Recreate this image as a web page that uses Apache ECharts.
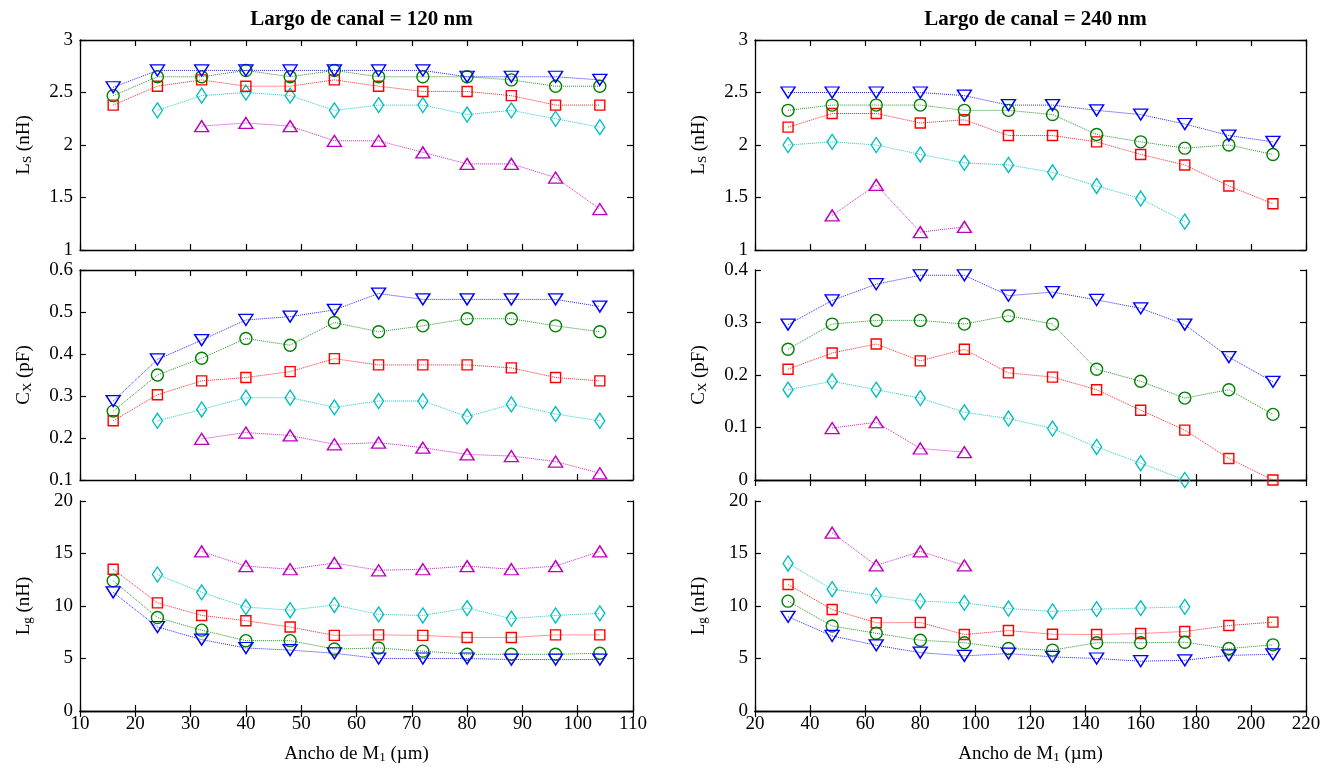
<!DOCTYPE html>
<html>
<head>
<meta charset="utf-8">
<script src="https://cdn.jsdelivr.net/npm/echarts@6/dist/echarts.min.js"></script>
<style>
  html, body { margin: 0; padding: 0; background: #ffffff; }
  #chart { width: 1337px; height: 774px; }
</style>
</head>
<body>
<div id="chart"></div>
<script>
// Transistor widths (µm) for each channel length
const width120 = [16, 24, 32, 40, 48, 56, 64, 72, 80, 88, 96, 104];
const width240 = [32, 48, 64, 80, 96, 112, 128, 144, 160, 176, 192, 208];

// Channel length 120 nm: Ls (nH)
const ls120Blue    = [2.55, 2.71, 2.71, 2.71, 2.71, 2.71, 2.71, 2.71, 2.65, 2.65, 2.65, 2.62];
const ls120Green   = [2.47, 2.65, 2.65, 2.71, 2.65, 2.71, 2.65, 2.65, 2.65, 2.62, 2.56, 2.56];
const ls120Red     = [2.38, 2.56, 2.62, 2.56, 2.56, 2.62, 2.56, 2.51, 2.51, 2.47, 2.38, 2.38];
const ls120Cyan    = [null, 2.33, 2.47, 2.50, 2.47, 2.33, 2.38, 2.38, 2.29, 2.33, 2.25, 2.17];
const ls120Magenta = [null, null, 2.18, 2.21, 2.18, 2.04, 2.04, 1.93, 1.82, 1.82, 1.69, 1.39];

// Channel length 120 nm: Cx (pF)
const cx120Blue    = [0.288, 0.387, 0.433, 0.481, 0.489, 0.505, 0.544, 0.530, 0.530, 0.530, 0.530, 0.513];
const cx120Green   = [0.264, 0.350, 0.390, 0.437, 0.421, 0.475, 0.453, 0.467, 0.484, 0.484, 0.467, 0.453];
const cx120Red     = [0.241, 0.303, 0.336, 0.344, 0.358, 0.389, 0.374, 0.374, 0.374, 0.367, 0.344, 0.336];
const cx120Cyan    = [null, 0.241, 0.268, 0.296, 0.296, 0.273, 0.288, 0.288, 0.251, 0.280, 0.257, 0.241];
const cx120Magenta = [null, null, 0.198, 0.213, 0.206, 0.185, 0.189, 0.177, 0.161, 0.157, 0.144, 0.116];

// Channel length 120 nm: Lg (nH)
const lg120Blue    = [11.3, 8.0, 6.8, 6.0, 5.8, 5.5, 5.0, 5.0, 5.0, 4.9, 4.9, 4.9];
const lg120Green   = [12.4, 8.9, 7.7, 6.7, 6.7, 5.9, 6.0, 5.7, 5.4, 5.4, 5.4, 5.5];
const lg120Red     = [13.5, 10.3, 9.1, 8.6, 8.0, 7.2, 7.25, 7.2, 7.0, 7.0, 7.25, 7.25];
const lg120Cyan    = [null, 13.0, 11.3, 9.9, 9.6, 10.1, 9.2, 9.1, 9.8, 8.8, 9.1, 9.3];
const lg120Magenta = [null, null, 15.2, 13.8, 13.5, 14.1, 13.4, 13.5, 13.8, 13.5, 13.8, 15.2];

// Channel length 240 nm: Ls (nH)
const ls240Blue    = [2.50, 2.50, 2.50, 2.50, 2.47, 2.38, 2.38, 2.33, 2.29, 2.20, 2.09, 2.03];
const ls240Green   = [2.33, 2.38, 2.38, 2.38, 2.33, 2.33, 2.29, 2.10, 2.03, 1.97, 2.00, 1.91];
const ls240Red     = [2.17, 2.30, 2.30, 2.21, 2.24, 2.09, 2.09, 2.03, 1.91, 1.81, 1.61, 1.44];
const ls240Cyan    = [2.00, 2.03, 2.00, 1.91, 1.83, 1.81, 1.74, 1.61, 1.49, 1.27, null, null];
const ls240Magenta = [null, 1.33, 1.62, 1.17, 1.22, null, null, null, null, null, null, null];

// Channel length 240 nm: Cx (pF)
const cx240Blue    = [0.296, 0.342, 0.373, 0.390, 0.390, 0.351, 0.358, 0.343, 0.327, 0.296, 0.234, 0.187];
const cx240Green   = [0.249, 0.297, 0.304, 0.304, 0.297, 0.313, 0.297, 0.211, 0.188, 0.156, 0.172, 0.125];
const cx240Red     = [0.211, 0.242, 0.259, 0.227, 0.249, 0.204, 0.196, 0.172, 0.133, 0.095, 0.041, 0.000];
const cx240Cyan    = [0.172, 0.188, 0.172, 0.156, 0.129, 0.117, 0.098, 0.063, 0.032, 0.000, null, null];
const cx240Magenta = [null, 0.099, 0.110, 0.060, 0.053, null, null, null, null, null, null, null];

// Channel length 240 nm: Lg (nH)
const lg240Blue    = [8.97, 7.15, 6.26, 5.56, 5.25, 5.47, 5.15, 5.00, 4.74, 4.83, 5.30, 5.40];
const lg240Green   = [10.46, 8.10, 7.40, 6.74, 6.50, 5.95, 5.80, 6.50, 6.50, 6.55, 5.95, 6.30];
const lg240Red     = [12.05, 9.67, 8.40, 8.43, 7.28, 7.66, 7.31, 7.28, 7.38, 7.57, 8.14, 8.46];
const lg240Cyan    = [14.05, 11.60, 11.00, 10.46, 10.30, 9.76, 9.48, 9.70, 9.80, 9.92, null, null];
const lg240Magenta = [null, 16.98, 13.86, 15.20, 13.86, null, null, null, null, null, null, null];

// Column titles and axis ranges
const columnTitles = ['Largo de canal = 120 nm', 'Largo de canal = 240 nm'];
const xRanges = [[10, 110, 10], [20, 220, 20]];
const yRanges = [[1, 3, 0.5], [0.1, 0.6, 0.1], [0, 20, 5]];
const yRangesRight = [[1, 3, 0.5], [0, 0.4, 0.1], [0, 20, 5]];

const SERIF = '"Liberation Serif", "Times New Roman", "DejaVu Serif", serif';

// Marker / colour scheme for the five curves
const curveStyles = [
  { color: '#0000ff', symbol: 'triangle', rotate: 180, size: [14, 11] },
  { color: '#008000', symbol: 'circle', rotate: 0, size: 12 },
  { color: '#ff0000', symbol: 'rect', rotate: 0, size: 10 },
  { color: '#00bfbf', symbol: 'diamond', rotate: 0, size: [10, 15] },
  { color: '#bf00bf', symbol: 'triangle', rotate: 0, size: [14, 11] }
];

const panels = [
  { col: 0, row: 0, x: width120, ys: [ls120Blue, ls120Green, ls120Red, ls120Cyan, ls120Magenta] },
  { col: 0, row: 1, x: width120, ys: [cx120Blue, cx120Green, cx120Red, cx120Cyan, cx120Magenta] },
  { col: 0, row: 2, x: width120, ys: [lg120Blue, lg120Green, lg120Red, lg120Cyan, lg120Magenta] },
  { col: 1, row: 0, x: width240, ys: [ls240Blue, ls240Green, ls240Red, ls240Cyan, ls240Magenta] },
  { col: 1, row: 1, x: width240, ys: [cx240Blue, cx240Green, cx240Red, cx240Cyan, cx240Magenta] },
  { col: 1, row: 2, x: width240, ys: [lg240Blue, lg240Green, lg240Red, lg240Cyan, lg240Magenta] }
];

const yNames = [
  '{m|L}{s|S}{m| (nH)}',
  '{m|C}{s|X}{m| (pF)}',
  '{m|L}{s|g}{m| (nH)}'
];
const xName = '{m|Ancho de M}{s|1}{m| (µm)}';

// main text sits at the top of the line box, the subscript at its bottom
const nameRich = {
  m: { fontFamily: SERIF, fontSize: 19, color: '#000', lineHeight: 19, verticalAlign: 'top' },
  s: { fontFamily: SERIF, fontSize: 13, color: '#000', lineHeight: 13, padding: [11, 0, 0, 0], verticalAlign: 'bottom' }
};

const colLeft = [80, 755];
const colWidth = [553, 551];
const rowTop = [40, 270, 501];
const rowHeight = 210;

const grid = [], xAxis = [], yAxis = [], series = [], title = [];
const AX = { lineStyle: { color: '#000', width: 1.3 } };
const TICK = { inside: true, length: 6, lineStyle: { color: '#000', width: 1.2 } };
const TICK_LABEL = { fontFamily: SERIF, fontSize: 19, color: '#000' };

panels.forEach((p, gi) => {
  grid.push({ left: colLeft[p.col], top: rowTop[p.row], width: colWidth[p.col], height: rowHeight, containLabel: false });
  const xr = xRanges[p.col];
  const yr = (p.col === 0 ? yRanges : yRangesRight)[p.row];
  const bottomRow = p.row === 2;
  // bottom x axis
  xAxis.push({
    type: 'value', gridIndex: gi, position: 'bottom', min: xr[0], max: xr[1], interval: xr[2],
    axisLine: AX, axisTick: TICK, splitLine: { show: false },
    axisLabel: Object.assign({ show: bottomRow, margin: 4 }, TICK_LABEL),
    name: bottomRow ? xName : '', nameLocation: 'middle', nameGap: 34,
    nameTextStyle: { rich: nameRich }
  });
  // top x axis (ticks only)
  xAxis.push({
    type: 'value', gridIndex: gi, position: 'top', min: xr[0], max: xr[1], interval: xr[2],
    axisLine: AX, axisTick: TICK, splitLine: { show: false }, axisLabel: { show: false }
  });
  // left y axis
  yAxis.push({
    type: 'value', gridIndex: gi, position: 'left', min: yr[0], max: yr[1], interval: yr[2],
    axisLine: AX, axisTick: TICK, splitLine: { show: false },
    axisLabel: Object.assign({ margin: 7 }, TICK_LABEL),
    name: yNames[p.row], nameLocation: 'middle', nameGap: 46, nameRotate: 90,
    nameTextStyle: { rich: nameRich }
  });
  // right y axis (ticks only)
  yAxis.push({
    type: 'value', gridIndex: gi, position: 'right', min: yr[0], max: yr[1], interval: yr[2],
    axisLine: AX, axisTick: TICK, splitLine: { show: false }, axisLabel: { show: false }
  });

  p.ys.forEach((vals, si) => {
    const st = curveStyles[si];
    const data = [];
    vals.forEach((v, i) => { if (v !== null) data.push([p.x[i], v]); });
    series.push({
      type: 'line',
      name: 'curva ' + (si + 1),
      xAxisIndex: gi * 2,
      yAxisIndex: gi * 2,
      data: data,
      symbol: st.symbol,
      symbolSize: st.size,
      symbolRotate: st.rotate,
      showAllSymbol: true,
      clip: false,
      silent: true,
      animation: false,
      lineStyle: { color: st.color, width: 1, type: 'dotted', opacity: 0.85 },
      itemStyle: { color: 'rgba(255,255,255,0)', borderColor: st.color, borderWidth: 1.4 },
      z: 10 - si
    });
  });
});

columnTitles.forEach((t, c) => {
  title.push({
    text: t,
    left: colLeft[c] + colWidth[c] / 2,
    top: 4,
    textAlign: 'center',
    textStyle: { fontFamily: SERIF, fontSize: 21, fontWeight: 'bold', color: '#000' }
  });
});

const chart = echarts.init(document.getElementById('chart'), null, { renderer: 'canvas' });
chart.setOption({
  animation: false,
  backgroundColor: '#ffffff',
  title: title,
  grid: grid,
  xAxis: xAxis,
  yAxis: yAxis,
  series: series
});
</script>
</body>
</html>
